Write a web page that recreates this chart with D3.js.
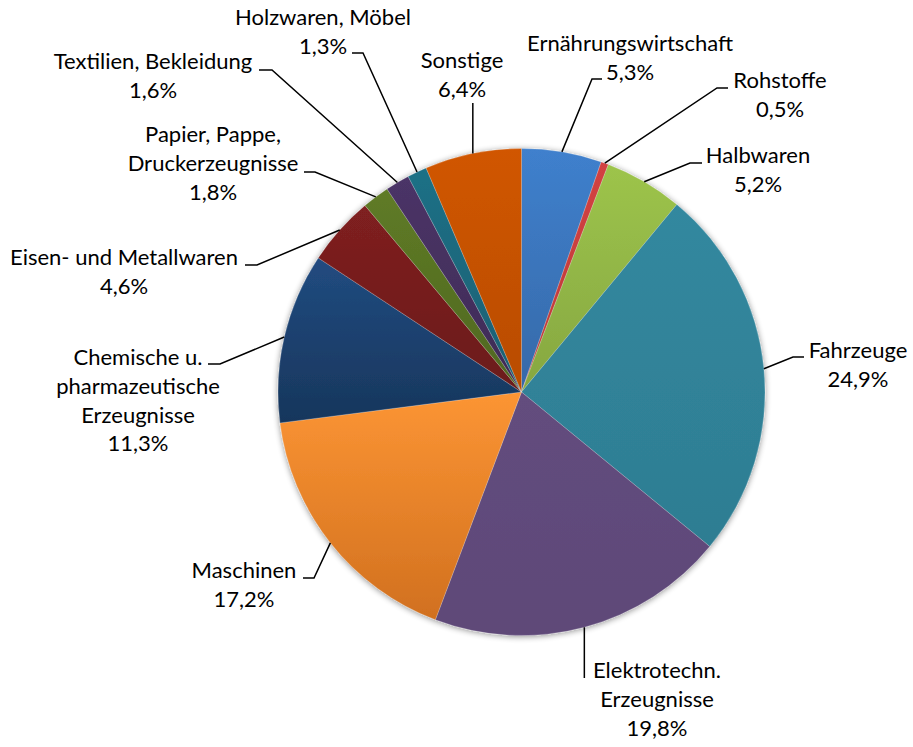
<!DOCTYPE html>
<html><head><meta charset="utf-8">
<script src="https://cdn.jsdelivr.net/npm/d3@7/dist/d3.min.js"></script>
<style>
html,body{margin:0;padding:0;background:#fff;}
svg{display:block;}
text{font-family:Lato,"Open Sans",sans-serif;font-size:22px;fill:#000;}
</style></head>
<body>
<svg id="chart" width="913" height="747"></svg>
<script>
// ---- data ----
const categories = [
  "Ernährungswirtschaft", "Rohstoffe", "Halbwaren", "Fahrzeuge",
  "Elektrotechn.\nErzeugnisse", "Maschinen",
  "Chemische u.\npharmazeutische\nErzeugnisse", "Eisen- und Metallwaren",
  "Papier, Pappe,\nDruckerzeugnisse", "Textilien, Bekleidung",
  "Holzwaren, Möbel", "Sonstige"
];
const shares = [5.3, 0.5, 5.2, 24.9, 19.8, 17.2, 11.3, 4.6, 1.8, 1.6, 1.3, 6.4];

// ---- styles (gradient top/bottom colours per slice) ----
const colorsTop    = ["#3F80CD","#D34242","#9DC44B","#32889F","#634D7E","#FC9534","#214B80","#7F2020","#5F7B26","#4B3467","#1F7086","#D15600"];
const colorsBottom = ["#3669A8","#BA3A38","#86A741","#2E7D92","#5E4878","#D1701F","#17365C","#6B1B1B","#4F6720","#3E2B55","#1A5F72","#B84C00"];

// ---- label layout: text centre x, first baseline y, leader attach point, horizontal stub ----
const labelLayout = [
  {tx:630, ty:51,  ax:602, ay:79,  stub:-10},
  {tx:780, ty:88,  ax:728, ay:88,  stub:-11},
  {tx:758, ty:163, ax:702, ay:163, stub:-12},
  {tx:858, ty:358, ax:804, ay:357, stub:-11},
  {tx:657, ty:678, vertical:true, ay:678},
  {tx:244, ty:578, ax:303, ay:578, stub:11},
  {tx:138, ty:365, ax:208, ay:364, stub:12},
  {tx:124, ty:265, ax:245, ay:265, stub:12},
  {tx:213, ty:142, ax:304, ay:172, stub:11},
  {tx:153, ty:69,  ax:259, ay:70,  stub:13},
  {tx:323, ty:25,  ax:352, ay:53,  stub:11},
  {tx:462, ty:68,  vertical:true, ay:103}
];

const cx = 521.5, cy = 392, R = 243.5, lineH = 28.8;
const svg = d3.select("#chart");
const defs = svg.append("defs");

const f = defs.append("filter").attr("id","shadow").attr("x","-10%").attr("y","-10%").attr("width","120%").attr("height","120%");
f.append("feGaussianBlur").attr("in","SourceAlpha").attr("stdDeviation",3).attr("result","b");
f.append("feOffset").attr("in","b").attr("dx",0).attr("dy",1).attr("result","o");
f.append("feComponentTransfer").attr("in","o").attr("result","s")
  .append("feFuncA").attr("type","linear").attr("slope",0.45);
const fm = f.append("feMerge");
fm.append("feMergeNode").attr("in","s");
fm.append("feMergeNode").attr("in","SourceGraphic");

shares.forEach((v,i)=>{
  const g = defs.append("linearGradient").attr("id","g"+i)
    .attr("x1",0).attr("y1",0).attr("x2",0).attr("y2",1);
  g.append("stop").attr("offset","0%").attr("stop-color",colorsTop[i]);
  g.append("stop").attr("offset","100%").attr("stop-color",colorsBottom[i]);
});

const data = categories.map((c,i)=>({name:c, value:shares[i], i}));
const pie = d3.pie().value(d=>d.value).sort(null);
const arcs = pie(data);
const arc = d3.arc().innerRadius(0).outerRadius(R);

const pg = svg.append("g").attr("transform",`translate(${cx},${cy})`).attr("filter","url(#shadow)");
pg.selectAll("path").data(arcs).join("path")
  .attr("d",arc)
  .attr("fill",d=>`url(#g${d.data.i})`)
  .attr("stroke","#fff").attr("stroke-width",0.4).attr("stroke-opacity",0.5);

// leaders and labels
const fmt = v => v.toFixed(1).replace(".",",") + "%";
const lg = svg.append("g");
arcs.forEach(a=>{
  const L = labelLayout[a.data.i];
  const mid = (a.startAngle + a.endAngle)/2;
  const rx = cx + R*Math.sin(mid), ry = cy - R*Math.cos(mid);
  let pts;
  if (L.vertical) pts = [[rx,ry],[rx,L.ay]];
  else pts = [[rx,ry],[L.ax+L.stub,L.ay],[L.ax,L.ay]];
  lg.append("path").attr("d",d3.line()(pts))
    .attr("fill","none").attr("stroke","#000").attr("stroke-width",1.5);

  const lines = a.data.name.split("\n").concat([fmt(a.data.value)]);
  const t = svg.append("text").attr("text-anchor","middle");
  lines.forEach((s,k)=>{
    t.append("tspan").attr("x",L.tx).attr("y",L.ty + k*lineH).text(s);
  });
});
</script>
</body></html>
